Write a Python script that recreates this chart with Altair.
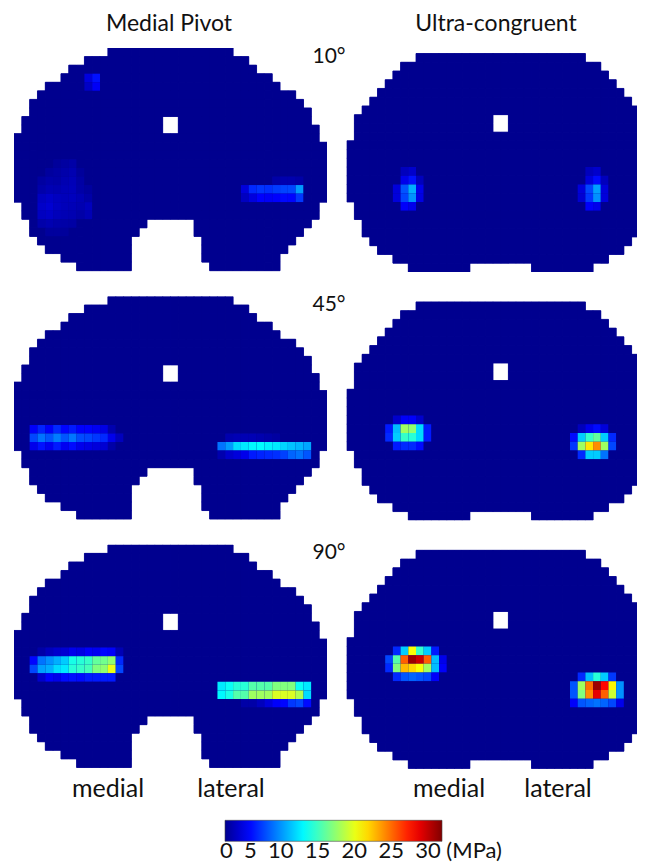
import altair as alt
import pandas as pd

# ---------------- colour map (jet) ----------------
JET_STOPS = [0, 3.67, 12.19, 20.71, 29.16, 33.4]
JET_COLORS = ["#00008f", "#0000ff", "#00ffff", "#ffff00", "#ff0000", "#800000"]

# ---------------- insert outlines (per row: first col, end col exclusive) ----------------
MP_LEFT = [12, 9, 7, 6, 4, 3, 2, 2, 1, 1, 0, 0, 0, 0, 0, 0, 0, 0, 1, 1, 2, 2, 3, 4, 6, 8]
MP_RIGHT = [28, 30, 31, 33, 34, 36, 37, 38, 38, 39, 39, 40, 40, 40, 40, 40, 40, 40, 39, 39, 38, 37, 36, 35, 34, 34]
MP_NOTCH = {20: (17, 22), 21: (16, 22), 22: (15, 23), 23: (15, 23), 24: (15, 23), 25: (15, 24)}
MP_HOLE = [(8, 19), (8, 20), (9, 19), (9, 20)]

UC_LEFT = [9, 7, 6, 5, 4, 3, 2, 1, 1, 1, 0, 0, 0, 0, 0, 0, 0, 1, 1, 2, 2, 3, 4, 6, 8]
UC_RIGHT = [31, 33, 34, 35, 36, 37, 38, 39, 39, 39, 40, 40, 40, 40, 40, 40, 40, 39, 39, 38, 38, 37, 36, 34, 32]
UC_NOTCH = {24: (16, 23)}
UC_HOLE = [(7, 19), (7, 20), (8, 19), (8, 20)]

# ---------------- contact pressure hot spots (row, col, MPa) ----------------
MP10 = [
    (3, 9, 2.6), (3, 10, 4.2), (4, 9, 1.8), (4, 10, 3.4),
    (13, 5, 0.4), (13, 6, 0.6), (13, 7, 0.8),
    (14, 4, 0.5), (14, 5, 0.7), (14, 6, 0.9), (14, 7, 1.1), (14, 8, 0.4),
    (15, 3, 0.6), (15, 4, 0.9), (15, 5, 0.8), (15, 6, 1.1), (15, 7, 1.3), (15, 8, 0.7),
    (16, 3, 0.9), (16, 4, 1.2), (16, 5, 1.1), (16, 6, 1.3), (16, 7, 1.4), (16, 8, 0.8), (16, 9, 0.5),
    (17, 3, 1.6), (17, 4, 1.9), (17, 5, 1.6), (17, 6, 1.4), (17, 7, 1.5), (17, 8, 1.2), (17, 9, 0.8),
    (18, 3, 1.9), (18, 4, 2.2), (18, 5, 1.7), (18, 6, 1.4), (18, 7, 1.3), (18, 8, 1.1), (18, 9, 1.5),
    (19, 3, 1.6), (19, 4, 1.8), (19, 5, 1.4), (19, 6, 1.2), (19, 7, 1.1), (19, 8, 0.8), (19, 9, 1.2),
    (20, 3, 0.9), (20, 4, 1.1), (20, 5, 0.9), (20, 6, 0.8), (20, 7, 0.7),
    (21, 4, 0.5), (21, 5, 0.5), (21, 6, 0.4),
    (15, 33, 0.8), (15, 34, 1.0), (15, 35, 1.0), (15, 36, 0.8),
    (16, 29, 2.5), (16, 30, 5.0), (16, 31, 5.4), (16, 32, 5.2), (16, 33, 5.6), (16, 34, 5.9), (16, 35, 6.0), (16, 36, 8.8),
    (17, 29, 1.6), (17, 30, 2.6), (17, 31, 3.6), (17, 32, 3.4), (17, 33, 3.6), (17, 34, 3.9), (17, 35, 3.8), (17, 36, 5.5),
]
UC10 = [
    (13, 7, 1.5), (13, 8, 2.0),
    (14, 7, 3.0), (14, 8, 4.2), (14, 9, 1.5),
    (15, 6, 2.5), (15, 7, 6.5), (15, 8, 9.5), (15, 9, 3.0),
    (16, 6, 2.5), (16, 7, 6.0), (16, 8, 8.5), (16, 9, 2.8),
    (17, 7, 3.5), (17, 8, 3.0),
    (13, 31, 1.5), (13, 32, 2.0),
    (14, 31, 2.5), (14, 32, 4.0), (14, 33, 1.5),
    (15, 30, 2.5), (15, 31, 6.0), (15, 32, 9.0), (15, 33, 2.5),
    (16, 30, 2.2), (16, 31, 5.5), (16, 32, 8.5), (16, 33, 2.5),
    (17, 31, 3.5), (17, 32, 3.0),
]
MP45 = (
    [(15, c, v) for c, v in zip(range(2, 13), [3.5, 4.8, 3.5, 5.0, 3.8, 4.5, 3.6, 3.6, 3.2, 2.8, 1.0])]
    + [(16, c, v) for c, v in zip(range(2, 14), [6.0, 7.5, 6.5, 7.8, 6.5, 7.6, 6.2, 6.0, 5.5, 5.0, 3.0, 1.5])]
    + [(17, c, v) for c, v in zip(range(2, 13), [3.0, 4.2, 3.2, 4.5, 3.2, 4.0, 3.0, 2.8, 2.5, 2.2, 0.8])]
    + [(16, c, v) for c, v in zip(range(27, 34), [1.0, 1.2, 1.2, 1.2, 1.0, 0.8, 0.6])]
    + [(17, c, v) for c, v in zip(range(26, 38), [7.5, 8.8, 11.0, 11.5, 12.0, 12.2, 11.8, 11.5, 10.8, 10.2, 9.8, 9.2])]
    + [(18, c, v) for c, v in zip(range(26, 38), [1.0, 2.0, 2.5, 3.0, 4.5, 4.8, 5.0, 5.2, 5.8, 7.0, 7.5, 6.5])]
)
UC45 = [
    (13, 6, 2.0), (13, 7, 3.5), (13, 8, 3.5), (13, 9, 2.0),
    (14, 5, 4.5), (14, 6, 10.0), (14, 7, 17.5), (14, 8, 17.0), (14, 9, 11.0), (14, 10, 4.5),
    (15, 5, 5.0), (15, 6, 10.5), (15, 7, 14.0), (15, 8, 13.5), (15, 9, 11.0), (15, 10, 4.5),
    (16, 6, 4.5), (16, 7, 5.0), (16, 8, 5.0), (16, 9, 4.0),
    (14, 30, 1.5), (14, 31, 3.0), (14, 32, 4.0), (14, 33, 2.5),
    (15, 29, 4.0), (15, 30, 10.5), (15, 31, 14.0), (15, 32, 15.5), (15, 33, 10.5), (15, 34, 5.0),
    (16, 29, 5.5), (16, 30, 17.5), (16, 31, 21.5), (16, 32, 24.5), (16, 33, 17.5), (16, 34, 6.0),
    (17, 30, 5.0), (17, 31, 10.5), (17, 32, 10.5), (17, 33, 7.5),
]
MP90 = (
    [(12, c, v) for c, v in zip(range(3, 14), [0.8, 1.5, 2.0, 2.2, 3.0, 2.8, 3.5, 3.2, 3.8, 3.5, 1.2])]
    + [(13, c, v) for c, v in zip(range(2, 14), [3.8, 7.5, 8.5, 9.5, 10.5, 13.0, 13.5, 14.0, 15.5, 16.0, 17.0, 5.0])]
    + [(14, c, v) for c, v in zip(range(2, 14), [6.0, 9.0, 9.5, 11.0, 11.5, 13.5, 14.0, 14.5, 16.5, 17.0, 20.0, 6.0])]
    + [(15, c, v) for c, v in zip(range(3, 13), [2.0, 3.5, 3.0, 4.0, 4.2, 4.0, 4.5, 4.5, 4.5, 4.5])]
    + [(16, c, v) for c, v in zip(range(26, 38), [11.5, 12.5, 13.5, 13.5, 15.0, 15.0, 15.0, 16.5, 16.5, 16.5, 12.5, 11.5])]
    + [(17, c, v) for c, v in zip(range(26, 38), [12.0, 13.0, 15.0, 15.0, 17.5, 17.5, 17.5, 19.5, 19.5, 19.5, 18.0, 11.0])]
    + [(18, c, v) for c, v in zip(range(29, 38), [0.8, 0.8, 1.5, 2.5, 3.5, 3.8, 5.5, 6.0, 4.0])]
)
UC90 = [
    (11, 6, 5.0), (11, 7, 10.5), (11, 8, 20.5), (11, 9, 14.0), (11, 10, 10.5), (11, 11, 4.5),
    (12, 5, 6.0), (12, 6, 15.0), (12, 7, 26.0), (12, 8, 32.5), (12, 9, 31.0), (12, 10, 26.0), (12, 11, 10.0), (12, 12, 3.0),
    (13, 5, 5.0), (13, 6, 16.5), (13, 7, 23.0), (13, 8, 22.0), (13, 9, 20.5), (13, 10, 17.5), (13, 11, 10.0), (13, 12, 3.5),
    (14, 6, 5.0), (14, 7, 6.5), (14, 8, 7.0), (14, 9, 6.5), (14, 10, 6.0), (14, 11, 3.5),
    (14, 30, 5.0), (14, 31, 10.0), (14, 32, 13.5), (14, 33, 10.5), (14, 34, 5.5),
    (15, 29, 6.5), (15, 30, 17.5), (15, 31, 25.5), (15, 32, 32.5), (15, 33, 29.0), (15, 34, 21.0), (15, 35, 8.5),
    (16, 29, 6.5), (16, 30, 16.5), (16, 31, 24.5), (16, 32, 30.0), (16, 33, 26.0), (16, 34, 19.0), (16, 35, 8.5),
    (17, 29, 3.5), (17, 30, 6.5), (17, 31, 7.0), (17, 32, 7.5), (17, 33, 7.0), (17, 34, 6.0), (17, 35, 3.0),
]

COLUMN_TITLES = ["Medial Pivot", "Ultra-congruent"]
ANGLES = ["10°", "45°", "90°"]
SIDES = ["medial", "lateral"]
CBAR_TEXT = "0\u00a0\u00a05\u00a0\u00a010\u00a0\u00a015\u00a0\u00a020\u00a0\u00a025\u00a0\u00a030\u00a0(MPa)"

FONT = "Lato"


def cells(left, right, notch, hole, hot):
    hotmap = {(r, c): v for r, c, v in hot}
    out = []
    for r, (a, b) in enumerate(zip(left, right)):
        for c in range(a, b):
            if (r, c) in hole:
                continue
            if r in notch and notch[r][0] <= c <= notch[r][1]:
                continue
            out.append({"c": c, "c2": c + 1, "r": r, "r2": r + 1, "v": hotmap.get((r, c), 0.0)})
    return pd.DataFrame(out)


cscale = alt.Scale(domain=JET_STOPS, range=JET_COLORS, interpolate="rgb")

LW, RW, PH = 313, 290.3, 223.9


def heat(df, xdom, ydom, w, legend=None):
    base = alt.Chart(df).encode(
        x=alt.X("c:Q", scale=alt.Scale(domain=xdom, nice=False, zero=False), axis=None),
        x2="c2:Q",
        y=alt.Y("r:Q", scale=alt.Scale(domain=ydom, reverse=True, nice=False, zero=False), axis=None),
        y2="r2:Q",
    )
    under = base.mark_rect(clip=True, color=JET_COLORS[0], stroke=JET_COLORS[0], strokeWidth=0.8)
    top = base.mark_rect(clip=True).encode(color=alt.Color("v:Q", scale=cscale, legend=legend))
    return alt.layer(under, top).properties(width=w, height=PH)


def label(text, x, y, size, align="center", baseline="middle"):
    return alt.Chart(pd.DataFrame({"t": [text]})).mark_text(
        font=FONT, fontSize=size, color="#111", align=align, baseline=baseline
    ).encode(text="t:N", x=alt.value(x), y=alt.value(y))


def mp_panel(hot, angle, top=False, bottom=False):
    legend = None
    if bottom:
        legend = alt.Legend(type="gradient", orient="none", legendX=211, legendY=275.5,
                            direction="horizontal", gradientLength=217, gradientThickness=21,
                            title=None, labelExpr="''", gradientStrokeColor="#444",
                            gradientStrokeWidth=0.6, padding=0)
    layers = [heat(cells(MP_LEFT, MP_RIGHT, MP_NOTCH, MP_HOLE, hot), [0, 40], [0, 26.14], LW, legend),
              label(angle, 315, 8.5, 21)]
    if top:
        layers.append(label(COLUMN_TITLES[0], 155, -24, 23))
    if bottom:
        layers.append(label(SIDES[0], 94, 244.5, 25))
        layers.append(label(SIDES[1], 217, 244.5, 25))
        layers.append(label(CBAR_TEXT, 206, 313.5, 22, align="left", baseline="alphabetic"))
    return alt.layer(*layers)


def uc_panel(hot, top=False, bottom=False):
    layers = [heat(cells(UC_LEFT, UC_RIGHT, UC_NOTCH, UC_HOLE, hot), [0, RW / 7.7], [-0.63, 25], RW)]
    if top:
        layers.append(label(COLUMN_TITLES[1], 149.3, -24, 23))
    if bottom:
        layers.append(label(SIDES[0], 102.3, 244.5, 25))
        layers.append(label(SIDES[1], 211.3, 244.5, 25))
    return alt.layer(*layers)


chart = alt.concat(
    mp_panel(MP10, ANGLES[0], top=True), uc_panel(UC10, top=True),
    mp_panel(MP45, ANGLES[1]), uc_panel(UC45),
    mp_panel(MP90, ANGLES[2], bottom=True), uc_panel(UC90, bottom=True),
    columns=2, spacing={"row": 24.4, "column": 19.7}, bounds="flush",
).resolve_scale(color="independent").properties(
    padding={"left": 6, "top": 5, "right": 0, "bottom": 3}
).configure_view(strokeWidth=0)

chart.save("out.html", embed_options={"renderer": "svg", "actions": False})
